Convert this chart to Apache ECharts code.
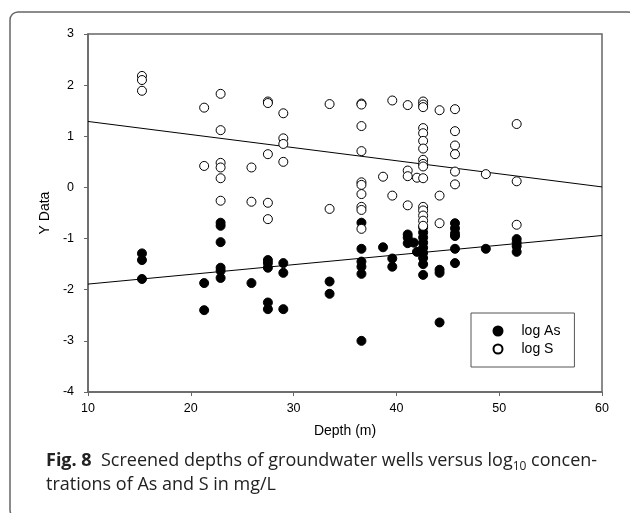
<!DOCTYPE html>
<html>
<head>
<meta charset="utf-8">
<script src="https://cdn.jsdelivr.net/npm/echarts@6/dist/echarts.min.js"></script>
<style>
html,body{margin:0;padding:0;background:#fff;}
#chart{width:630px;height:513px;}
</style>
</head>
<body>
<div id="chart"></div>
<script>
// log As (filled circles)
const asDepth = [15.25,15.25,15.25, 21.3,21.3, 22.9,22.9,22.9,22.9,22.9,22.9, 25.9,
  27.5,27.5,27.5,27.5,27.5, 29.0,29.0,29.0, 33.5,33.5,
  36.6,36.6,36.6,36.6,36.6,36.6, 38.7, 39.6,39.6, 41.1,41.1,41.1, 41.7, 42.0,
  42.6,42.6,42.6,42.6,42.6,42.6,42.6,42.6,42.6, 44.2,44.2,44.2,
  45.7,45.7,45.7,45.7,45.7,45.7, 48.7, 51.7,51.7,51.7,51.7];
const asLog = [-1.29,-1.42,-1.79, -1.87,-2.40, -0.69,-0.75,-1.07,-1.57,-1.63,-1.77, -1.87,
  -1.42,-1.48,-1.57,-2.25,-2.38, -1.48,-1.67,-2.38, -1.84,-2.08,
  -0.69,-1.20,-1.45,-1.55,-1.69,-3.00, -1.17, -1.39,-1.55, -0.92,-0.98,-1.09, -1.08, -1.26,
  -0.78,-0.88,-0.98,-1.08,-1.18,-1.28,-1.38,-1.50,-1.71, -1.61,-1.67,-2.64,
  -0.70,-0.80,-0.90,-0.95,-1.20,-1.48, -1.20, -1.01,-1.08,-1.15,-1.26];

// log S (open circles)
const sDepth = [15.25,15.25,15.25, 21.3,21.3, 22.9,22.9,22.9,22.9,22.9,22.9, 25.9,25.9,
  27.5,27.5,27.5,27.5,27.5, 29.0,29.0,29.0,29.0, 33.5,33.5,
  36.6,36.6,36.6,36.6,36.6,36.6,36.6,36.6,36.6,36.6, 38.7, 39.6,39.6,
  41.1,41.1,41.1,41.1, 42.0,
  42.6,42.6,42.6,42.6,42.6,42.6,42.6,42.6,42.6,42.6,42.6,42.6,42.6,42.6,42.6,42.6,
  44.2,44.2,44.2, 45.7,45.7,45.7,45.7,45.7,45.7, 48.7, 51.7,51.7,51.7];
const sLog = [2.18,2.10,1.89, 1.56,0.42, 1.83,1.12,0.48,0.39,0.18,-0.26, 0.39,-0.28,
  1.68,1.65,0.65,-0.30,-0.62, 1.45,0.96,0.85,0.50, 1.63,-0.42,
  1.64,1.62,1.20,0.71,0.10,0.05,-0.13,-0.38,-0.44,-0.81, 0.21, 1.70,-0.16,
  1.61,0.33,0.22,-0.35, 0.19,
  1.68,1.62,1.57,1.16,1.06,0.91,0.76,0.54,0.46,0.41,0.18,-0.38,-0.45,-0.55,-0.65,-0.75,
  1.51,-0.16,-0.70, 1.53,1.10,0.82,0.65,0.31,0.06, 0.26, 1.24,0.12,-0.73];

// regression lines (endpoints)
const fitX = [10, 60];
const asFitY = [-1.89, -0.94];
const sFitY = [1.29, 0.01];

const xTicks = {min: 10, max: 60, step: 10};
const yTicks = {min: -4, max: 3, step: 1};

const seriesNames = ['log As', 'log S'];
const xTitle = 'Depth (m)';
const yTitle = 'Y Data';

const pairs = (xs, ys) => xs.map((x, i) => [x, ys[i]]);

const axisColor = '#666';
const chart = echarts.init(document.getElementById('chart'), null, {renderer: 'canvas'});
chart.setOption({
  animation: false,
  backgroundColor: '#fff',
  textStyle: {fontFamily: 'Liberation Sans, Arial, sans-serif'},
  grid: {left: 88, right: 28, top: 34, bottom: 121, show: true, borderColor: axisColor, borderWidth: 1.5, backgroundColor: 'transparent'},
  title: {
    left: 41, top: 444,
    text: '{b|Fig. 8}  Screened depths of groundwater wells versus log{sub|10} concen-\ntrations of As and S in mg/L',
    textStyle: {
      fontFamily: 'Open Sans', fontSize: 18, fontWeight: 'normal', color: '#222', lineHeight: 24,
      rich: {
        b: {fontFamily: 'Open Sans', fontSize: 18, fontWeight: 'bold', color: '#222', lineHeight: 24},
        sub: {fontFamily: 'Open Sans', fontSize: 12, color: '#222', verticalAlign: 'bottom', lineHeight: 15}
      }
    }
  },
  legend: {
    left: 471, top: 313, orient: 'vertical',
    padding: [10, 14, 10, 21.5],
    itemWidth: 9, itemHeight: 9, itemGap: 2,
    borderColor: '#555', borderWidth: 1, backgroundColor: '#fff',
    textStyle: {fontSize: 14, color: '#000', lineHeight: 16, padding: [0, 0, 0, 14], fontFamily: 'Liberation Sans, Arial, sans-serif'},
    data: seriesNames.map(n => ({name: n, icon: 'circle'}))
  },
  xAxis: {
    type: 'value', min: xTicks.min, max: xTicks.max, interval: xTicks.step,
    name: xTitle, nameLocation: 'middle', nameGap: 32,
    nameTextStyle: {fontSize: 14, color: '#000'},
    axisLine: {onZero: false, lineStyle: {color: axisColor, width: 1.5}},
    axisTick: {inside: false, length: 4, lineStyle: {color: axisColor, width: 1}},
    axisLabel: {fontSize: 12.5, color: '#000', margin: 10},
    splitLine: {show: false}
  },
  yAxis: {
    type: 'value', min: yTicks.min, max: yTicks.max, interval: yTicks.step,
    name: yTitle, nameLocation: 'middle', nameGap: 35, nameRotate: 90,
    nameTextStyle: {fontSize: 14, color: '#000'},
    axisLine: {show: true, onZero: false, lineStyle: {color: axisColor, width: 1.5}},
    axisTick: {show: true, inside: false, length: 4, lineStyle: {color: axisColor, width: 1}},
    axisLabel: {fontSize: 12.5, color: '#000', margin: 14},
    splitLine: {show: false}
  },
  graphic: [{
    type: 'rect', silent: true, z: 100,
    shape: {x: 10, y: 12, width: 626, height: 506, r: 8},
    style: {fill: 'none', stroke: '#666', lineWidth: 1.5}
  }],
  series: [
    {type: 'line', data: pairs(fitX, asFitY), symbol: 'none', silent: true, lineStyle: {color: '#000', width: 1}, z: 1},
    {type: 'line', data: pairs(fitX, sFitY), symbol: 'none', silent: true, lineStyle: {color: '#000', width: 1}, z: 1},
    {name: seriesNames[0], type: 'scatter', data: pairs(asDepth, asLog), symbol: 'circle', symbolSize: 9,
     itemStyle: {color: '#000', borderColor: '#000', borderWidth: 1, opacity: 1}, z: 2},
    {name: seriesNames[1], type: 'scatter', data: pairs(sDepth, sLog), symbol: 'circle', symbolSize: 9,
     itemStyle: {color: '#fff', borderColor: '#000', borderWidth: 1, opacity: 1}, z: 3}
  ]
});
</script>
</body>
</html>
